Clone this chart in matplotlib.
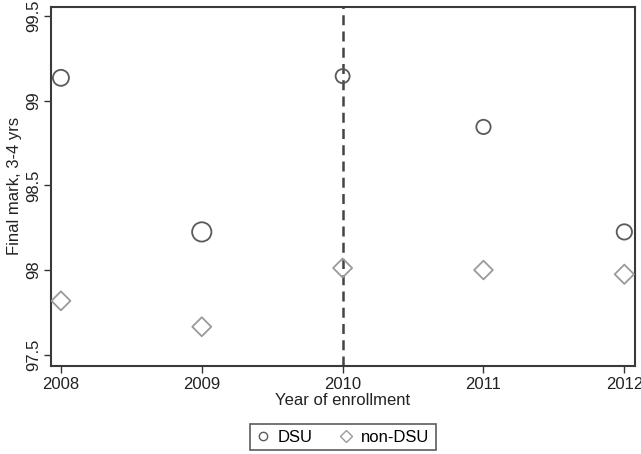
import matplotlib
matplotlib.use("Agg")
import matplotlib.pyplot as plt
from matplotlib.lines import Line2D

# Data
years = [2008, 2009, 2010, 2011, 2012]
dsu = [99.135, 98.225, 99.145, 98.845, 98.225]
non_dsu = [97.818, 97.665, 98.012, 98.0, 97.975]
dsu_dia = [16.0, 19.3, 14.0, 14.3, 15.3]      # marker diameter, px
non_dsu_dia = [19.0, 19.0, 19.0, 18.7, 19.3]  # diamond width, px
cutoff_year = 2010
y_ticks = [97.5, 98, 98.5, 99, 99.5]
y_tick_labels = ["97.5", "98", "98.5", "99", "99.5"]

plt.rcParams["font.family"] = ["Liberation Sans", "DejaVu Sans"]

fig = plt.figure(figsize=(6.41, 4.54), dpi=100)
ax = fig.add_axes([0.079, 0.1945, 0.9117, 0.790])

px2pt = 72 / 100
dsu_s = [(d * px2pt) ** 2 for d in dsu_dia]
non_s = [(d / 2 ** 0.5 * px2pt) ** 2 for d in non_dsu_dia]

ax.axvline(cutoff_year, color="#444444", linewidth=1.8, linestyle=(0, (4, 2.5)), zorder=1)
ax.scatter(years, dsu, s=dsu_s, marker="o", facecolors="none",
           edgecolors="#5a5a5a", linewidths=1.3, zorder=3)
ax.scatter(years, non_dsu, s=non_s, marker="D", facecolors="none",
           edgecolors="#9a9a9a", linewidths=1.3, zorder=3)

ax.set_xlim(2007.927, 2012.076)
ax.set_ylim(97.435, 99.553)
ax.set_xticks(years)
ax.set_xticklabels([str(y) for y in years], fontsize=12)
ax.set_yticks(y_ticks)
ax.set_yticklabels(y_tick_labels, fontsize=12, rotation=90, va="center")
ax.tick_params(direction="out", length=5, width=1, colors="#333333", labelcolor="#222222")
ax.tick_params(axis="x", pad=3)
ax.tick_params(axis="y", pad=2)

for sp in ax.spines.values():
    sp.set_color("#3a3a3a")
    sp.set_linewidth(1.5)

ax.set_xlabel("Year of enrollment", fontsize=12, color="#222222", labelpad=1)
ax.set_ylabel("Final mark, 3-4 yrs", fontsize=12, color="#222222", labelpad=3)

handles = [
    Line2D([], [], marker="o", linestyle="none", markerfacecolor="none",
           markeredgecolor="#5a5a5a", markersize=6, markeredgewidth=1),
    Line2D([], [], marker="D", linestyle="none", markerfacecolor="none",
           markeredgecolor="#9a9a9a", markersize=6, markeredgewidth=1),
]
leg = fig.legend(handles, ["DSU", "non-DSU"], loc="center", bbox_to_anchor=(343 / 641, 1 - 437 / 454),
                 ncol=2, fontsize=12, frameon=True, fancybox=False, edgecolor="#333333",
                 handlelength=0.8, handletextpad=0.5, columnspacing=1.6, borderpad=0.35)
leg.get_frame().set_linewidth(1.2)

fig.savefig("out.png", dpi=100)
